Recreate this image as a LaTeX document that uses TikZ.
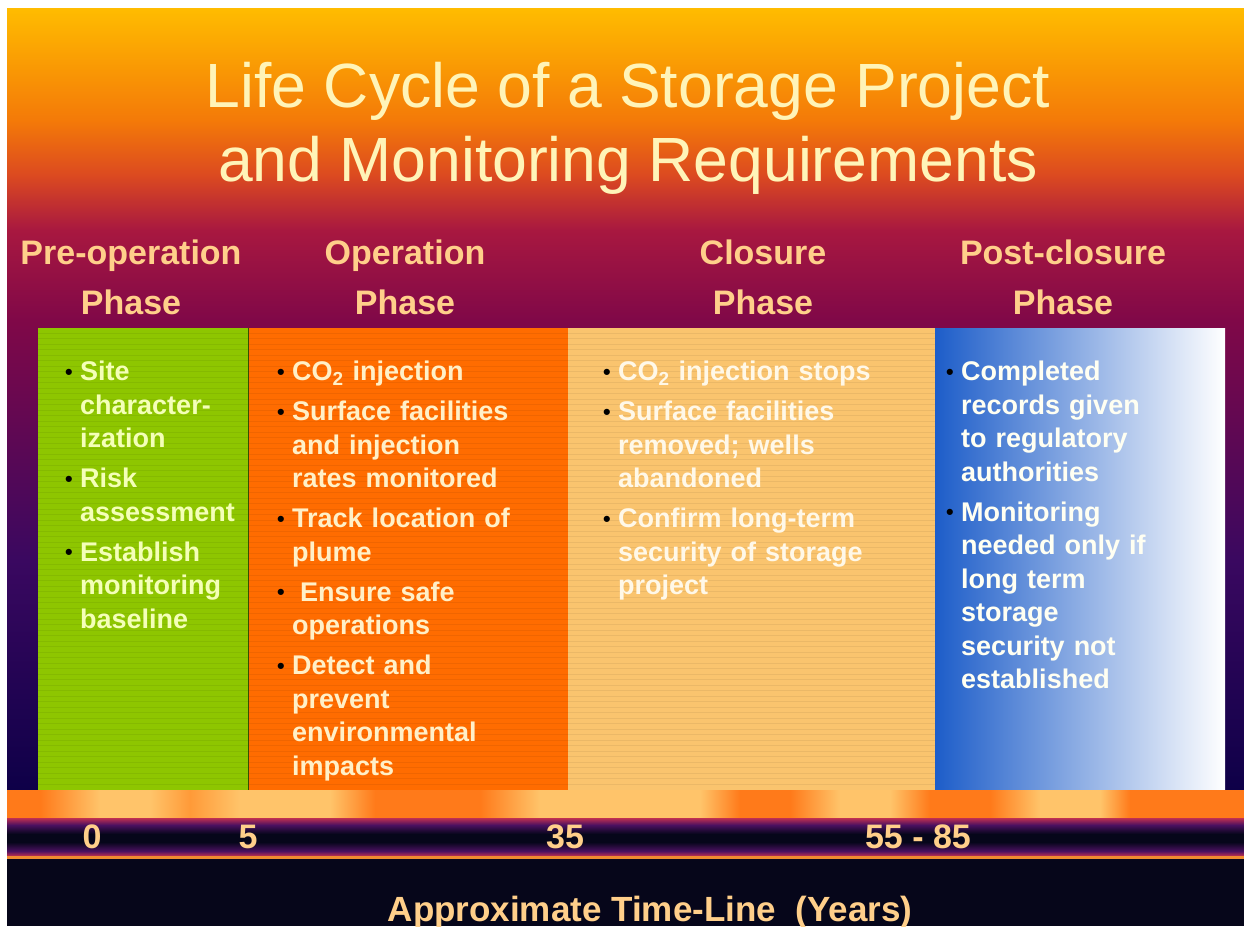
\documentclass[tikz,border=0pt]{standalone}
\usepackage{fontspec}
\setmainfont{Liberation Sans}
\usepackage{tikz}

% slide background
\definecolor{bggold}{HTML}{FFBC00}
\definecolor{bgorange}{HTML}{F47A08}
\definecolor{bgred}{HTML}{DC4A20}
\definecolor{bgcrimson}{HTML}{A81840}
\definecolor{bgmagenta}{HTML}{800848}
\definecolor{bgplum}{HTML}{3A0860}
\definecolor{bgnavy}{HTML}{0E0048}
\definecolor{bgdark}{HTML}{06061A}
% phase columns
\definecolor{greenbox}{HTML}{8EC600}
\definecolor{orangebox}{HTML}{FF6C00}
\definecolor{peachbox}{HTML}{FAC46E}
\definecolor{bluebox}{HTML}{1D5DC9}
% time-line band
\definecolor{bandorange}{HTML}{FF7A1A}
\definecolor{bandmid}{HTML}{FF9A38}
\definecolor{bandpeach}{HTML}{FFC46A}
\definecolor{bandpurple}{HTML}{4A1060}
\definecolor{bandpink}{HTML}{C03050}
\definecolor{bandline}{HTML}{F08A30}
% texts
\definecolor{titletext}{HTML}{FFF4B8}
\definecolor{headtext}{HTML}{FFCF8A}
\definecolor{greentext}{HTML}{F4FFB8}
\definecolor{orangetext}{HTML}{FFF0C8}
\definecolor{peachtext}{HTML}{FFF8E8}
\definecolor{bluetext}{HTML}{FFFFF2}

\newlength{\bulletgap}
\setlength{\bulletgap}{15pt}
\newcommand{\phaseitem}[1]{\par\hangindent=\bulletgap\hangafter=1
  \noindent\makebox[\bulletgap][l]{\raisebox{.05em}{\textcolor{black}{\scalebox{.8}{\textbullet}}}}#1\par\vspace{6.5pt}}

\tikzset{
  phasehead/.style={anchor=north, inner sep=0pt, align=center, text=headtext,
    font=\fontsize{34}{50}\selectfont\bfseries},
  phasebox/.style={anchor=north west, inner sep=0pt, outer sep=0pt,
    minimum height=462pt},
  itemlist/.style={anchor=north west, inner sep=0pt, text width=#1, align=left,
    font=\fontsize{27}{33.5}\selectfont\bfseries},
  yearmark/.style={anchor=base, inner sep=0pt, text=headtext,
    font=\fontsize{34}{34}\selectfont\bfseries},
}

\begin{document}
\begin{tikzpicture}[x=1pt, y=-1pt]
    \useasboundingbox (0,0) rectangle (1244,926);
    \fill[white] (0,0) rectangle (1244,926);

    % background, top to bottom
    \shade[top color=bggold, bottom color=bgorange] (7,8) rectangle (1244,120);
    \shade[top color=bgorange, bottom color=bgred] (7,120) rectangle (1244,175);
    \shade[top color=bgred, bottom color=bgcrimson] (7,175) rectangle (1244,230);
    \shade[top color=bgcrimson, bottom color=bgmagenta] (7,230) rectangle (1244,320);
    \shade[top color=bgmagenta, bottom color=bgplum] (7,320) rectangle (1244,560);
    \shade[top color=bgplum, bottom color=bgnavy] (7,560) rectangle (1244,790);

    \node (title) [anchor=north, inner sep=0pt, align=center, text=titletext,
        font=\fontsize{62.5}{74}\selectfont] at (628,62)
        {Life Cycle of a Storage Project\\and Monitoring Requirements};

    % phase columns
    \node (pre) [phasebox, fill=greenbox, minimum width=210pt] at (38,328) {};
    \node (op) [phasebox, fill=orangebox, minimum width=320pt] at (248,328) {};
    \node (clo) [phasebox, fill=peachbox, minimum width=367pt] at (568,328) {};
    \node (post) [phasebox, shade, left color=bluebox, right color=white,
        middle color=bluebox!50!white, minimum width=290pt] at (935,328) {};
    \foreach \y in {333,338.5,...,788}
        \draw[black, opacity=.06, line width=.6pt] (38,\y) -- (935,\y);
    \draw[black!60!greenbox, line width=.8pt] (pre.north east) -- (pre.south east);

    \node (prehead) [phasehead] at (131,240) {Pre-operation\\Phase};
    \node (ophead) [phasehead] at (405,240) {Operation\\Phase};
    \node (clohead) [phasehead] at (763,240) {Closure\\Phase};
    \node (posthead) [phasehead] at (1063,240) {Post-closure\\Phase};

    \node (prelist) [itemlist=185pt, text=greentext] at (65,347) {
        \phaseitem{Site\newline character-\newline ization}
        \phaseitem{Risk\newline assessment}
        \phaseitem{Establish\newline monitoring\newline baseline}};
    \node (oplist) [itemlist=288pt, text=orangetext] at (277,347) {
        \phaseitem{CO\textsubscript{2} injection}
        \phaseitem{Surface facilities\newline and injection\newline rates monitored}
        \phaseitem{Track location of\newline plume}
        \phaseitem{\hspace{8pt}Ensure safe\newline operations}
        \phaseitem{Detect and\newline prevent\newline environmental\newline impacts}};
    \node (clolist) [itemlist=320pt, text=peachtext] at (603,347) {
        \phaseitem{CO\textsubscript{2} injection stops}
        \phaseitem{Surface facilities\newline removed; wells\newline abandoned}
        \phaseitem{Confirm long-term\newline security of storage\newline project}};
    \node (postlist) [itemlist=270pt, text=bluetext] at (946,347) {
        \phaseitem{Completed\newline records given\newline to regulatory\newline authorities}
        \phaseitem{Monitoring\newline needed only if\newline long term\newline storage\newline security not\newline established}};

    % orange band under the columns
    \foreach \xa/\ca/\xb/\cb in {7/bandorange/40/bandorange, 40/bandorange/100/bandpeach,
            100/bandpeach/150/bandpeach, 150/bandpeach/190/bandmid, 190/bandmid/240/bandpeach,
            240/bandpeach/330/bandpeach, 330/bandpeach/375/bandorange, 375/bandorange/480/bandorange,
            480/bandorange/540/bandpeach, 540/bandpeach/700/bandpeach, 700/bandpeach/740/bandorange,
            740/bandorange/790/bandorange, 790/bandorange/840/bandpeach, 840/bandpeach/890/bandpeach,
            890/bandpeach/930/bandorange, 930/bandorange/990/bandorange, 990/bandorange/1040/bandpeach,
            1040/bandpeach/1100/bandpeach, 1100/bandpeach/1130/bandorange, 1130/bandorange/1244/bandorange}
        \shade[left color=\ca, right color=\cb] (\xa,790) rectangle (\xb,818);

    % time-line band
    \shade[top color=bandpink, bottom color=bandpurple] (7,818) rectangle (1244,825);
    \shade[top color=bandpurple, bottom color=bgdark] (7,825) rectangle (1244,834);
    \fill[bgdark] (7,834) rectangle (1244,842);
    \shade[top color=bgdark, bottom color=bandpurple] (7,842) rectangle (1244,851);
    \shade[top color=bandpurple, bottom color=bandpink] (7,851) rectangle (1244,856);
    \fill[bandline] (7,856) rectangle (1244,859);
    \fill[bgdark] (7,859) rectangle (1244,926);

    \node (y0) [yearmark] at (92,848) {0};
    \node (y5) [yearmark] at (248,848) {5};
    \node (y35) [yearmark] at (565,848) {35};
    \node (y55) [yearmark] at (918,848) {55 - 85};

    \node (axis) [anchor=base, inner sep=0pt, text=headtext,
        font=\fontsize{35}{35}\selectfont\bfseries] at (650,921)
        {Approximate Time-Line\ \ (Years)};
\end{tikzpicture}
\end{document}
